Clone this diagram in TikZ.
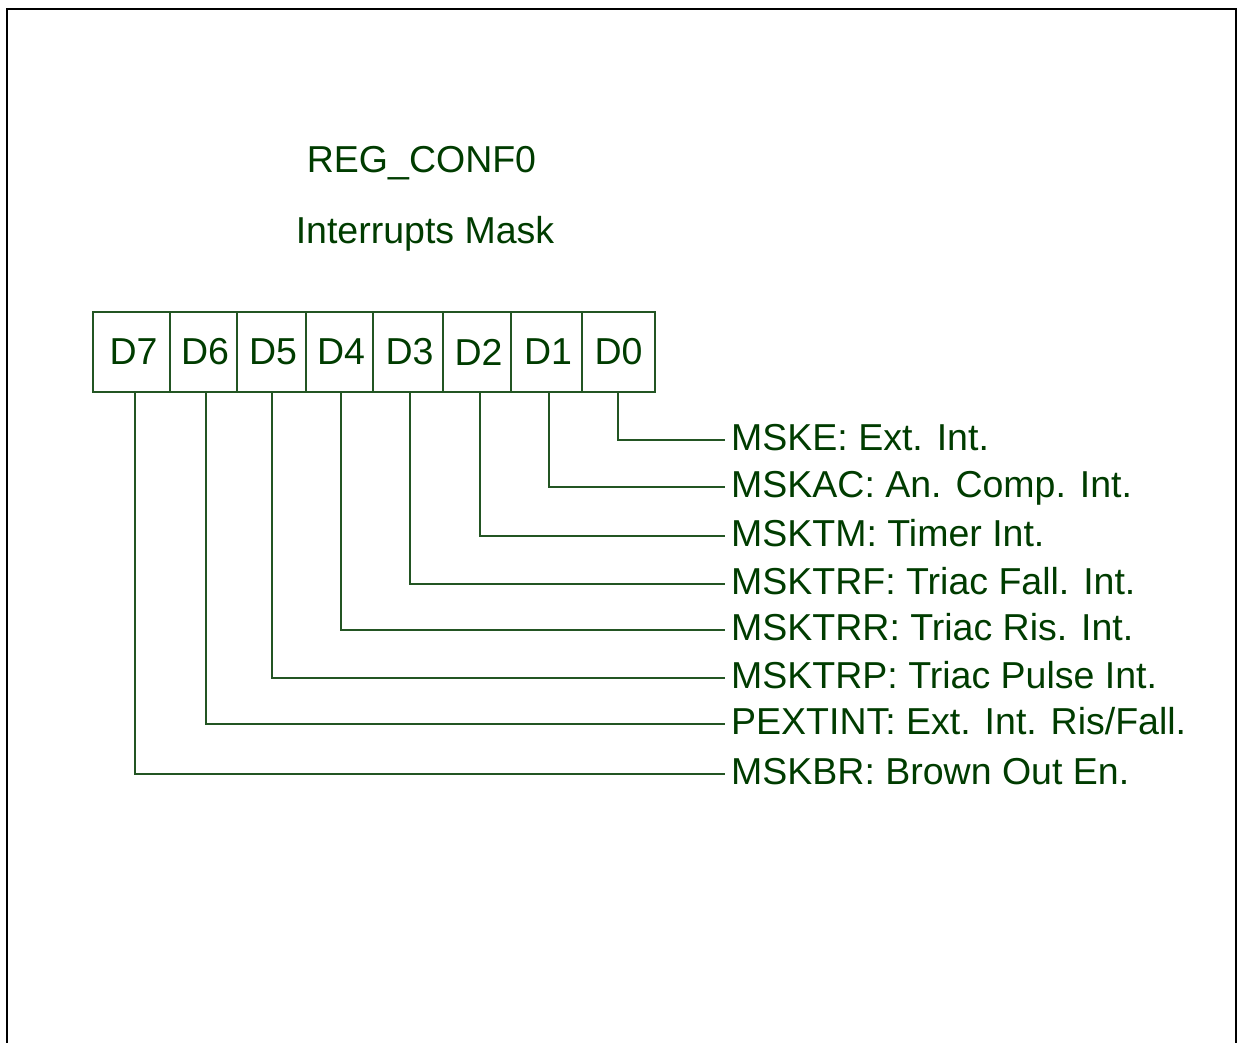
\documentclass[tikz,border=0pt]{standalone}
\usepackage{fontspec}
\setmainfont{Liberation Sans}
\definecolor{txtgreen}{RGB}{0,60,0}
\definecolor{linegreen}{RGB}{35,85,35}
\begin{document}
\begin{tikzpicture}[x=1pt,y=-1pt,
  every node/.style={font=\fontsize{37.5}{44}\selectfont, text=txtgreen},
  cell/.style={draw=linegreen, line width=1.3pt, inner sep=0pt, minimum height=80pt, anchor=center},
  lbl/.style={anchor=west, inner xsep=6pt, inner ysep=0pt, text height=26pt, text depth=6pt},
  conn/.style={draw=linegreen, line width=1.4pt},
  frame/.style={draw=black, line width=2.2pt}]
\useasboundingbox (0,0) rectangle (1239,1043);
\draw[frame] (7,1043) -- (7,9) -- (1236,9) -- (1236,1043);

\node[anchor=base] (title) at (421.5,173) {REG\_CONF0};
\node[anchor=base] (sub) at (425,243) {Interrupts Mask};

\node[cell, minimum width=77pt] (d7) at (131.5,352) {\hspace{4pt}D7};
\node[cell, minimum width=67pt] (d6) at (203.5,352) {\hspace{3pt}D6};
\node[cell, minimum width=69pt] (d5) at (271.5,352) {\hspace{3pt}D5};
\node[cell, minimum width=67pt] (d4) at (339.5,352) {\hspace{3pt}D4};
\node[cell, minimum width=70pt] (d3) at (408,352) {\hspace{3pt}D3};
\node[cell, minimum width=68pt] (d2) at (477,352) {\hspace{3pt}D2};
\node[cell, minimum width=71pt] (d1) at (546.5,352) {\hspace{3pt}D1};
\node[cell, minimum width=73pt] (d0) at (618.5,352) {D0};

\node[lbl] (l0) at (725,440) {MSKE: Ext. Int.};
\node[lbl] (l1) at (725,487) {MSKAC: An. Comp. Int.};
\node[lbl] (l2) at (725,536) {MSKTM: Timer Int.};
\node[lbl] (l3) at (725,584) {MSKTRF: Triac Fall. Int.};
\node[lbl] (l4) at (725,630) {MSKTRR: Triac Ris. Int.};
\node[lbl] (l5) at (725,678) {MSKTRP: Triac Pulse Int.};
\node[lbl] (l6) at (725,724) {PEXTINT: Ext. Int. Ris/Fall.};
\node[lbl] (l7) at (725,774) {MSKBR: Brown Out En.};

\coordinate (c0) at (618,392);
\coordinate (c1) at (549,392);
\coordinate (c2) at (480,392);
\coordinate (c3) at (410,392);
\coordinate (c4) at (341,392);
\coordinate (c5) at (272,392);
\coordinate (c6) at (206,392);
\coordinate (c7) at (135,392);

\foreach \i in {0,...,7}{
  \draw[conn] (d\i.south -| c\i) |- (l\i.west);
}
\end{tikzpicture}
\end{document}
